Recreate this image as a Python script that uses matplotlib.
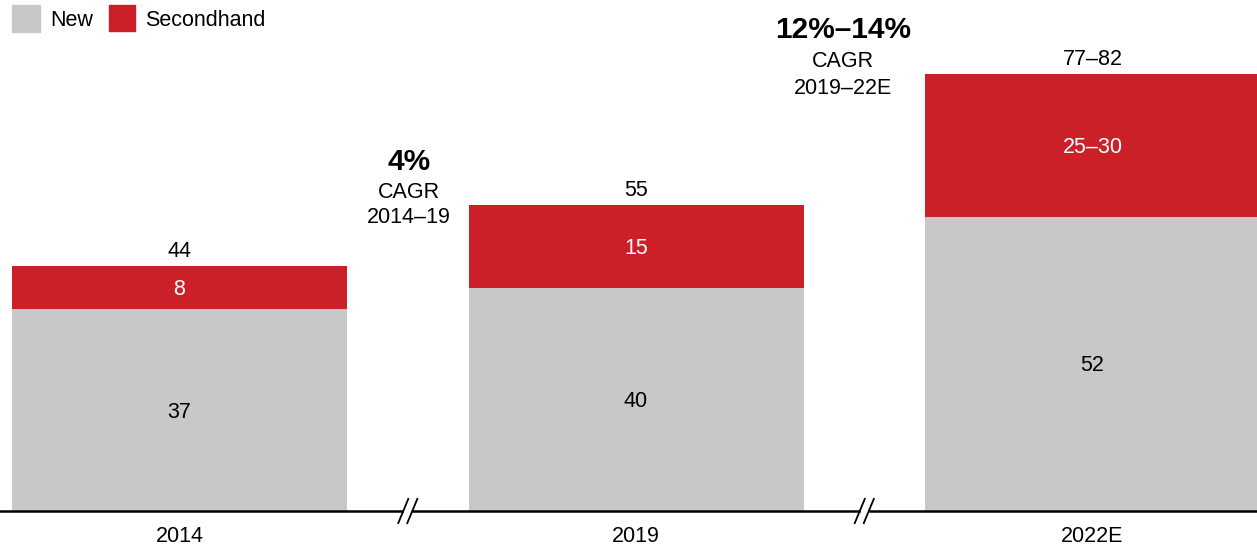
import matplotlib.pyplot as plt
from matplotlib.patches import Rectangle

plt.rcParams['font.family'] = ['Liberation Sans', 'DejaVu Sans']

years = ['2014', '2019', '2022E']
new_vals = [36.7, 40.5, 53.5]
second_vals = [7.8, 15.1, 26]
new_labels = ['37', '40', '52']
second_labels = ['8', '15', '25–30']
total_labels = ['44', '55', '77–82']
cagr_head = ['4%', '12%–14%']
cagr_period = ['2014–19', '2019–22E']

GRAY = '#c8c8c8'
RED = '#cc2028'
FS = 15.5
PX = 5.5  # pixels per unit on y

fig = plt.figure(figsize=(12.57, 5.5), dpi=100)
ax = fig.add_axes([0, 1 - 511 / 550, 1, 511 / 550])
x0 = -0.3933
ax.set_xlim(x0, x0 + 1257 / 456.5)
ax.set_ylim(0, 511 / PX)
ax.axis('off')

x = list(range(len(years)))
w = 0.734
ax.bar(x, new_vals, width=w, color=GRAY)
ax.bar(x, second_vals, width=w, bottom=new_vals, color=RED)

for i in x:
    ax.annotate(new_labels[i], (i, new_vals[i] / 2), xytext=(0, -1.5), textcoords='offset points',
                ha='center', va='center', fontsize=FS)
    ax.annotate(second_labels[i], (i, new_vals[i] + second_vals[i] / 2), xytext=(0, -1.5),
                textcoords='offset points', ha='center', va='center', fontsize=FS, color='white')
    ax.annotate(total_labels[i], (i, new_vals[i] + second_vals[i]), xytext=(0, 10.5),
                textcoords='offset points', ha='center', va='center', fontsize=FS)
    ax.annotate(years[i], (i, 0), xytext=(0, -18), textcoords='offset points',
                ha='center', va='center', fontsize=FS, annotation_clip=False)

# baseline with breaks
brk = [0.5, 1.5]
xmax = x0 + 1257 / 456.5
ax.plot([x0, brk[0] - 0.012], [0, 0], color='black', lw=1.8, clip_on=False)
ax.plot([brk[0] + 0.012, brk[1] - 0.012], [0, 0], color='black', lw=1.8, clip_on=False)
ax.plot([brk[1] + 0.012, xmax], [0, 0], color='black', lw=1.8, clip_on=False)
for c in brk:
    for d in [-0.0099, 0.0099]:
        ax.plot([c + d - 0.011, c + d + 0.011], [-2.2, 2.2], color='black', lw=1.3, clip_on=False)

# CAGR callouts (pixel rows of head, "CAGR", period)
cagr_x = [0.503, 1.453]
cagr_rows = [(162, 192.5, 217.5), (30, 61.5, 88.5)]
for k in range(2):
    r = cagr_rows[k]
    ax.text(cagr_x[k], (511 - r[0]) / PX, cagr_head[k], ha='center', va='center',
            fontsize=21.5, fontweight='bold')
    ax.text(cagr_x[k], (511 - r[1]) / PX, 'CAGR', ha='center', va='center', fontsize=FS)
    ax.text(cagr_x[k], (511 - r[2]) / PX, cagr_period[k], ha='center', va='center', fontsize=FS)

# legend
fig.add_artist(Rectangle((12 / 1257, 1 - 32 / 550), 28 / 1257, 27 / 550,
                         transform=fig.transFigure, color=GRAY))
fig.text(50 / 1257, 1 - 21 / 550, 'New', ha='left', va='center', fontsize=FS)
fig.add_artist(Rectangle((109 / 1257, 1 - 31 / 550), 26 / 1257, 26 / 550,
                         transform=fig.transFigure, color=RED))
fig.text(145 / 1257, 1 - 21 / 550, 'Secondhand', ha='left', va='center', fontsize=FS)

fig.savefig('out.png', dpi=100)
